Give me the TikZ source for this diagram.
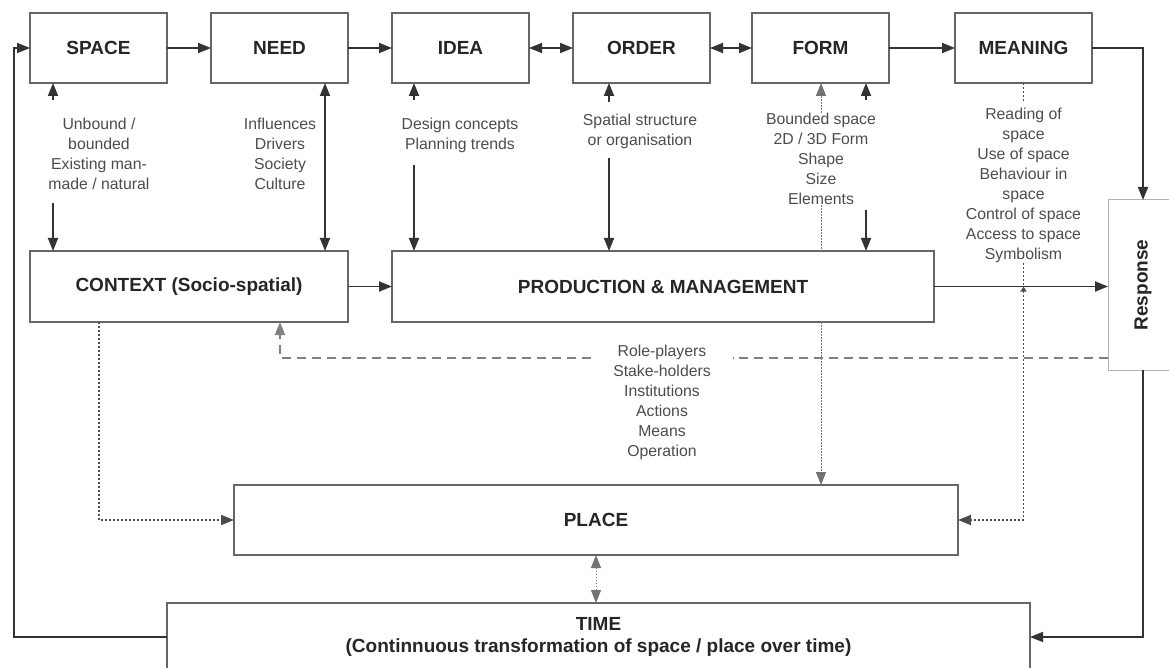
\documentclass[tikz,border=0pt]{standalone}
\usepackage{fontspec}
\setmainfont{Liberation Sans}
\usepackage{tikz}
\usetikzlibrary{shapes,arrows.meta,positioning}

\begin{document}
\begin{tikzpicture}[
        x=1pt, y=-1pt,
        >={Triangle[length=13pt,width=10pt]},
        block/.style={rectangle, draw=black!60, line width=1.7pt, fill=white, text=black!85, font=\bfseries\fontsize{19}{22}\selectfont, align=center, minimum width=137pt, minimum height=70pt, inner sep=0pt, outer sep=0pt},
        resp/.style={rectangle, draw=black!30, line width=1pt, fill=white, text=black!85, font=\bfseries\fontsize{19}{22}\selectfont, minimum width=70pt, minimum height=170pt, inner sep=0pt, outer sep=0pt},
        note/.style={text=black!70, font=\fontsize{15.8}{20}\selectfont, align=center, inner sep=0pt},
        link/.style={draw=black!80, line width=1.8pt},
        dotline/.style={draw=black!70, line width=1.6pt, dash pattern=on 2pt off 2pt},
        thindot/.style={draw=black!55, line width=0.9pt, dash pattern=on 1.5pt off 1.5pt},
        dashline/.style={draw=black!50, line width=1.7pt, dash pattern=on 9pt off 6pt}
    ]
        \useasboundingbox (0,0) rectangle (1169,668);

        % Top row
        \node [block] (space) at (98.5,48) {SPACE};
        \node [block, right=44pt of space] (need) {NEED};
        \node [block, right=44pt of need] (idea) {IDEA};
        \node [block, right=44pt of idea] (order) {ORDER};
        \node [block, right=42pt of order] (form) {FORM};
        \node [block, right=66pt of form] (meaning) {MEANING};

        % Middle row
        \node [block, minimum width=318pt, minimum height=71pt] (context) at (189,286.5) {CONTEXT (Socio-spatial)};
        \node [block, minimum width=542pt, minimum height=71pt, right=44pt of context] (production) {PRODUCTION \& MANAGEMENT};
        \node [resp] (response) at (1143,285) {\rotatebox{90}{Response}};

        % Place and time
        \node [block, minimum width=724pt] (place) at (596,520) {PLACE};
        \node [block, minimum width=863pt, minimum height=68pt] (time) at (598.5,637) {TIME\\(Continnuous transformation of space / place over time)};

        % Notes
        \node [note] (spacenote) at (99,154) {Unbound /\\bounded\\Existing man-\\made / natural};
        \node [note] (neednote) at (280,154) {Influences\\Drivers\\Society\\Culture};
        \node [note] (ideanote) at (460,135) {Design concepts\\Planning trends};
        \node [note] (ordernote) at (640,131) {Spatial structure\\or organisation};
        \node [note] (formnote) at (821,159) {Bounded space\\2D / 3D Form\\Shape\\Size\\Elements};
        \node [note] (meaningnote) at (1023.5,185) {Reading of\\space\\Use of space\\Behaviour in\\space\\Control of space\\Access to space\\Symbolism};
        \node [note, minimum width=141pt] (rolenote) at (662,402) {Role-players\\Stake-holders\\Institutions\\Actions\\Means\\Operation};

        % Lanes
        \coordinate (spaceup) at (53,100);
        \coordinate (spacedown) at (53,203);
        \coordinate (needlane) at (325,0);
        \coordinate (ideaup) at (414,100);
        \coordinate (ideadown) at (414,165);
        \coordinate (orderup) at (609,102);
        \coordinate (orderdown) at (609,158);
        \coordinate (formup) at (866,100);
        \coordinate (formdown) at (866,210);
        \coordinate (meaningdot) at (1023.5,102);
        \coordinate (mcross) at (meaningnote.south |- production.east);
        \coordinate (ctxdot) at (99,0);
        \coordinate (ctxdash) at (280,0);
        \coordinate (dashy) at (0,358);
        \coordinate (loopcorner) at (14,48);

        % Top row arrows
        \draw [link, ->] (space) -- (need);
        \draw [link, ->] (need) -- (idea);
        \draw [link, <->] (idea) -- (order);
        \draw [link, <->] (order) -- (form);
        \draw [link, ->] (form) -- (meaning);
        \draw [link, ->] (meaning.east) -| (response.north);

        % Arrows round the notes
        \draw [link, ->] (spaceup) -- (space.south -| spaceup);
        \draw [link, ->] (spacedown) -- (context.north -| spacedown);
        \draw [link, <->] (need.south -| needlane) -- (context.north -| needlane);
        \draw [link, ->] (ideaup) -- (idea.south -| ideaup);
        \draw [link, ->] (ideadown) -- (production.north -| ideadown);
        \draw [link, ->] (orderup) -- (order.south -| orderup);
        \draw [link, ->] (orderdown) -- (production.north -| orderdown);
        \draw [thindot, ->] (formnote.north) -- (form.south -| formnote.north);
        \draw [link, ->] (formup) -- (form.south -| formup);
        \draw [link, ->] (formdown) -- (production.north -| formdown);
        \draw [thindot] (formnote.south) -- (production.north -| formnote.south);
        \draw [thindot, ->] (production.south -| formnote.south) -- (place.north -| formnote.south);
        \draw [dotline] (meaning.south) -- (meaningdot);

        % Middle row arrows
        \draw [link, ->] (context) -- (production);
        \draw [link, ->] (production.east) -- (response.west |- production.east);
        \draw [dotline] (meaningnote.south) -- (mcross);
        \draw [dotline, {Triangle[length=5pt,width=6pt]}->] (mcross) |- (place.east);
        \draw [dotline, ->] (context.south -| ctxdot) |- (place.west);
        \draw [dashline] (response.west |- dashy) -- (rolenote.east |- dashy);
        \draw [dashline, ->] (rolenote.west |- dashy) -| (context.south -| ctxdash);

        % Loops through time
        \draw [thindot, <->] (place.south) -- (place.south |- time.north);
        \draw [link, ->] (response.south) |- (time.east);
        \draw [link, ->] (time.west) -| (loopcorner) -- (space.west);

    \end{tikzpicture}
\end{document}
